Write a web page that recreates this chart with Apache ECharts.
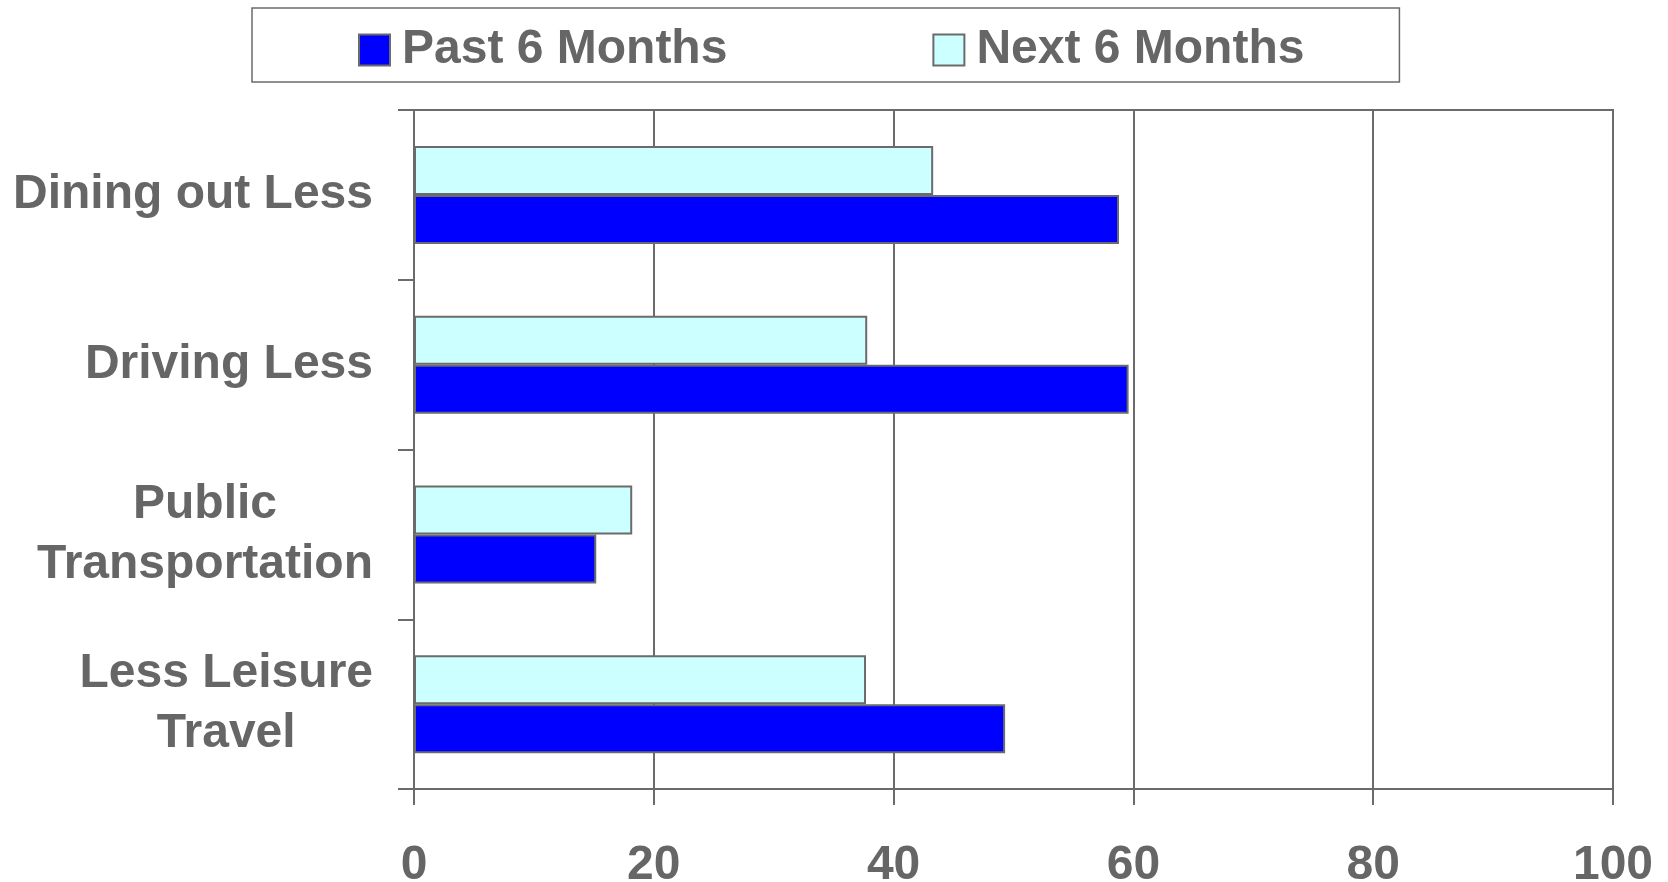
<!DOCTYPE html>
<html>
<head>
<meta charset="utf-8">
<script src="https://cdn.jsdelivr.net/npm/echarts@6/dist/echarts.min.js"></script>
<style>
  html, body { margin: 0; padding: 0; background: #ffffff; }
  #chart { width: 1668px; height: 882px; }
</style>
</head>
<body>
<div id="chart"></div>
<script>
// Spending cutbacks, share of respondents (%)
const categories = ['Dining out Less', 'Driving Less', 'Public\nTransportation', 'Less Leisure\nTravel'];
const pastSixMonths = [58.8, 59.6, 15.2, 49.3];
const nextSixMonths = [43.3, 37.8, 18.2, 37.7];
const seriesNames = ['Past 6 Months', 'Next 6 Months'];
const xTicks = { min: 0, max: 100, interval: 20 };

const FONT = '"Liberation Sans", Arial, Helvetica, sans-serif';
const TEXT = '#666666';
const LINE = '#6b6b6b';

const chart = echarts.init(document.getElementById('chart'), null, { renderer: 'canvas' });

chart.setOption({
  backgroundColor: '#ffffff',
  animation: false,
  textStyle: { fontFamily: FONT },
  legend: {
    data: seriesNames,
    icon: 'rect',
    left: 252,
    top: 8,
    orient: 'horizontal',
    padding: [18, 95, 8, 106],
    itemGap: 205,
    itemWidth: 31,
    itemHeight: 31,
    borderColor: LINE,
    borderWidth: 1.5,
    backgroundColor: '#ffffff',
    selectedMode: false,
    textStyle: {
      fontFamily: FONT,
      fontSize: 48,
      fontWeight: 'bold',
      color: TEXT,
      padding: [0, 0, 0, 7]
    }
  },
  grid: {
    left: 414,
    right: 55,
    top: 110,
    bottom: 93,
    containLabel: false,
    outerBoundsMode: 'none',
    show: true,
    borderColor: LINE,
    borderWidth: 2,
    backgroundColor: 'transparent'
  },
  xAxis: {
    type: 'value',
    min: xTicks.min,
    max: xTicks.max,
    interval: xTicks.interval,
    axisLine: { show: true, lineStyle: { color: LINE, width: 2 } },
    axisTick: { show: true, length: 16, lineStyle: { color: LINE, width: 2 } },
    splitLine: { show: true, lineStyle: { color: LINE, width: 2 } },
    axisLabel: {
      margin: 53,
      fontFamily: FONT,
      fontSize: 48,
      fontWeight: 'bold',
      color: TEXT
    }
  },
  yAxis: {
    type: 'category',
    inverse: true,
    data: categories,
    axisLine: { show: true, lineStyle: { color: LINE, width: 2 } },
    axisTick: { show: true, length: 16, lineStyle: { color: LINE, width: 2 } },
    splitLine: { show: false },
    axisLabel: {
      margin: 41,
      align: 'right',
      formatter: function (value) {
        return value.split('\n').map(function (line) { return '{c|' + line + '}'; }).join('\n');
      },
      rich: {
        c: {
          align: 'center',
          fontFamily: FONT,
          fontSize: 48,
          fontWeight: 'bold',
          color: TEXT,
          lineHeight: 60
        }
      }
    }
  },
  series: [
    {
      name: 'Next 6 Months',
      type: 'bar',
      data: nextSixMonths,
      barWidth: 49,
      barGap: '0%',
      itemStyle: { color: '#ccffff', borderColor: LINE, borderWidth: 2 }
    },
    {
      name: 'Past 6 Months',
      type: 'bar',
      data: pastSixMonths,
      barWidth: 49,
      barGap: '0%',
      itemStyle: { color: '#0000ff', borderColor: LINE, borderWidth: 2 }
    }
  ]
});
</script>
</body>
</html>
